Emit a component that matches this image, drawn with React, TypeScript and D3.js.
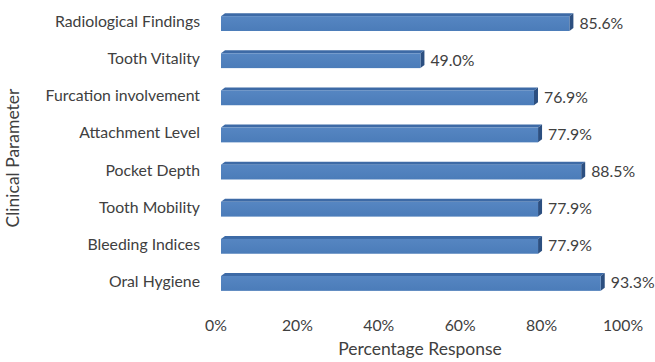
import React from "react";
import * as d3 from "d3";

const categories = [
  "Radiological Findings",
  "Tooth Vitality",
  "Furcation involvement",
  "Attachment Level",
  "Pocket Depth",
  "Tooth Mobility",
  "Bleeding Indices",
  "Oral Hygiene",
];
const values = [85.6, 49.0, 76.9, 77.9, 88.5, 77.9, 77.9, 93.3];
const ticks = [0, 20, 40, 60, 80, 100];

const W = 655;
const H = 362;
const FONT = "Lato, 'Open Sans', sans-serif";
const TEXT = "#404040";

export default function App() {
  const x = d3.scaleLinear().domain([0, 100]).range([221, 628]);
  const y = d3
    .scaleBand<string>()
    .domain(categories)
    .range([3, 300])
    .paddingInner(0.6)
    .paddingOuter(0.3);
  const bh = y.bandwidth();
  const dx = 4;
  const dy = 3;
  const tickShift = -5;

  return (
    <svg
      width={W}
      height={H}
      style={{ position: "absolute", left: 0, top: 0, background: "#fff" }}
    >
      <defs>
        <linearGradient id="front" x1="0" y1="0" x2="0" y2="1">
          <stop offset="0" stopColor="#5686c2" />
          <stop offset="1" stopColor="#4b7cb9" />
        </linearGradient>
      </defs>
      {categories.map((c, i) => {
        const v = values[i];
        const x0 = x(0);
        const x1 = x(v);
        const yt = (y(c) as number) + 2;
        const yb = yt + bh;
        return (
          <g key={c}>
            <path
              d={`M${x0},${yt} L${x0 + dx},${yt - dy} L${x1 + dx},${yt - dy} L${x1},${yt} Z`}
              fill="#3d6aa6"
            />
            <path
              d={`M${x1},${yt} L${x1 + dx},${yt - dy} L${x1 + dx},${yb - dy} L${x1},${yb} Z`}
              fill="#2c4f80"
            />
            <rect x={x0} y={yt} width={x1 - x0} height={bh} fill="url(#front)" />
            <text
              x={x1 + dx + 6}
              y={yt + bh / 2 + 1}
              dominantBaseline="middle"
              fontFamily={FONT}
              fontSize={15.8}
              fill={TEXT}
            >
              {v.toFixed(1) + "%"}
            </text>
            <text
              x={200}
              y={yt + bh / 2 - 0.5}
              textAnchor="end"
              dominantBaseline="middle"
              fontFamily={FONT}
              fontSize={15.8}
              fill={TEXT}
            >
              {c}
            </text>
          </g>
        );
      })}
      {ticks.map((t) => (
        <text
          key={t}
          x={x(t) + tickShift}
          y={327}
          textAnchor="middle"
          dominantBaseline="middle"
          fontFamily={FONT}
          fontSize={15.8}
          fill={TEXT}
        >
          {t + "%"}
        </text>
      ))}
      <text
        x={420}
        y={351}
        textAnchor="middle"
        dominantBaseline="middle"
        fontFamily={FONT}
        fontSize={17.5}
        fill={TEXT}
      >
        Percentage Response
      </text>
      <text
        transform={`translate(15,158) rotate(-90)`}
        textAnchor="middle"
        dominantBaseline="middle"
        fontFamily={FONT}
        fontSize={17.5}
        fill={TEXT}
      >
        Clinical Parameter
      </text>
    </svg>
  );
}
